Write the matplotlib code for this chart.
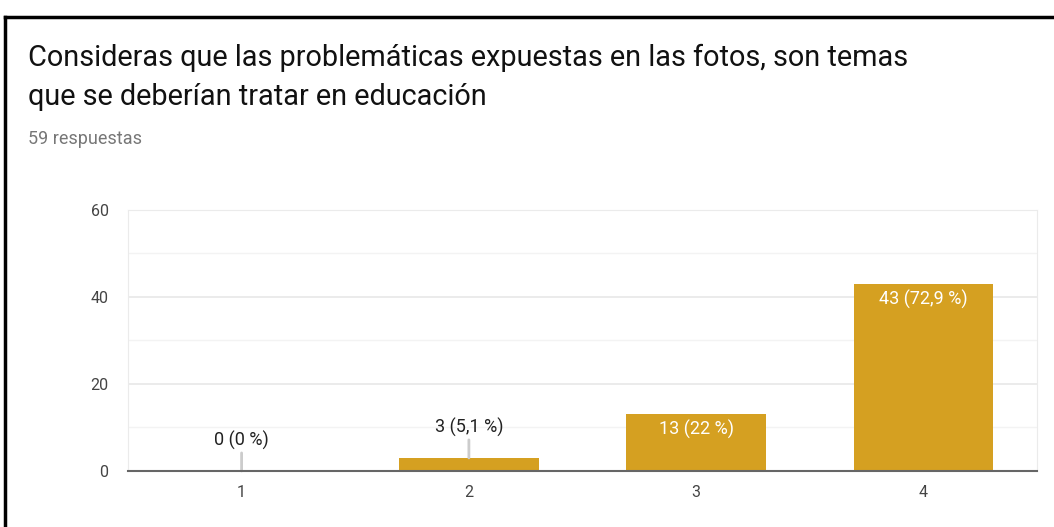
import matplotlib.pyplot as plt
from matplotlib.lines import Line2D

categories = ['1', '2', '3', '4']
counts = [0, 3, 13, 43]
labels = ['0 (0 %)', '3 (5,1 %)', '13 (22 %)', '43 (72,9 %)']
inside = [False, False, True, True]

plt.rcParams['font.family'] = ['Roboto', 'DejaVu Sans']

fig = plt.figure(figsize=(10.54, 5.27), dpi=100)
ax = fig.add_axes([0.1214, 0.1063, 0.8626, 0.4953])

x = list(range(len(categories)))
ax.bar(x, counts, width=0.615, color='#D5A021', zorder=3)

ax.set_xlim(-0.5, 3.5)
ax.set_ylim(0, 60)
ax.set_yticks([0, 20, 40, 60])
ax.set_yticks([10, 30, 50], minor=True)
ax.grid(axis='y', which='major', color='#E8E8E8', linewidth=1.2, zorder=0)
ax.grid(axis='y', which='minor', color='#F3F3F3', linewidth=1.0, zorder=0)
ax.set_xticks(x)
ax.set_xticklabels(categories)
ax.tick_params(axis='both', which='both', length=0, labelsize=11.5, colors='#444444')
ax.tick_params(axis='y', pad=14)
ax.tick_params(axis='x', pad=10)

for side in ['top', 'right', 'left']:
    ax.spines[side].set_color('#EBEBEB')
ax.spines['bottom'].set_color('#666666')
ax.spines['bottom'].set_linewidth(1.5)
ax.spines['bottom'].set_zorder(4)

for xi, c, lab, ins in zip(x, counts, labels, inside):
    if ins:
        ax.annotate(lab, (xi, c), xytext=(0, -4), textcoords='offset points',
                    ha='center', va='top', color='white', fontsize=13, zorder=5)
    else:
        ax.annotate('', (xi, c), xytext=(0, 13), textcoords='offset points',
                    arrowprops=dict(arrowstyle='-', color='#CCCCCC', lw=2,
                                    shrinkA=0, shrinkB=0), zorder=4)
        ax.annotate(lab, (xi, c), xytext=(0, 15), textcoords='offset points',
                    ha='center', va='bottom', color='#222222', fontsize=13, zorder=5)

fig.text(0.027, 0.89, 'Consideras que las problemáticas expuestas en las fotos, son temas',
         fontsize=20.8, color='#111111', va='center')
fig.text(0.027, 0.816, 'que se deberían tratar en educación',
         fontsize=20.8, color='#111111', va='center')
fig.text(0.027, 0.736, '59 respuestas', fontsize=13, color='#777777', va='center')

# black border of the screenshot
fig.add_artist(Line2D([0.005, 1.0], [0.967, 0.967], color='black', lw=2.5,
                      transform=fig.transFigure))
fig.add_artist(Line2D([0.005, 0.005], [0.0, 0.967], color='black', lw=2.5,
                      transform=fig.transFigure))

fig.savefig('out.png', dpi=100)
